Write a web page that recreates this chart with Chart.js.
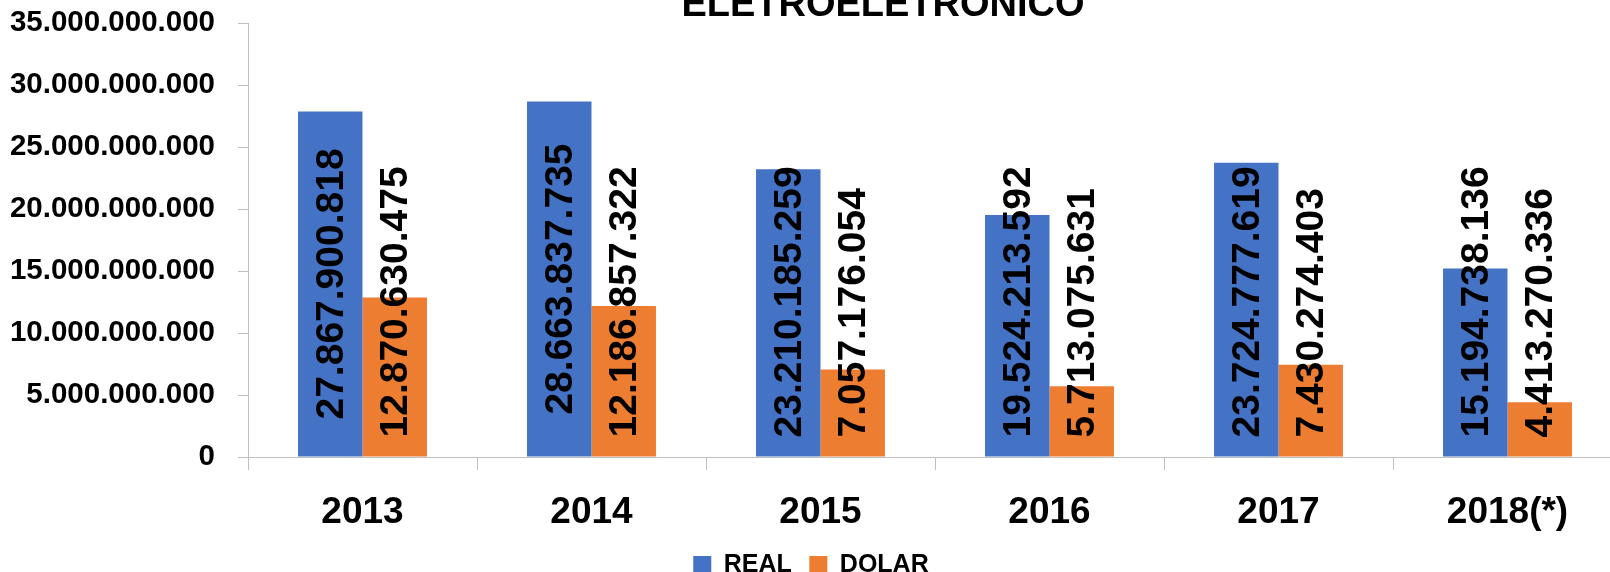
<!DOCTYPE html>
<html>
<head>
<meta charset="utf-8">
<script src="https://cdn.jsdelivr.net/npm/chart.js@4.4.1/dist/chart.umd.min.js"></script>
<style>
  html, body { margin: 0; padding: 0; background: #fff; overflow: hidden; width: 1610px; height: 572px; }
  #wrap { position: absolute; left: 0; top: -30px; width: 1640px; height: 630px; }
</style>
</head>
<body>
<div id="wrap"><canvas id="myChart" width="1640" height="630"></canvas></div>
<script>
const titleText = 'ELETROELETRÔNICO';
const years = ['2013', '2014', '2015', '2016', '2017', '2018(*)'];
const realValues = [27867900818, 28663837735, 23210185259, 19524213592, 23724777619, 15194738136];
const dolarValues = [12870630475, 12186857322, 7057176054, 5713075631, 7430274403, 4413270336];
const seriesNames = ['REAL', 'DOLAR'];

const sans = "'Liberation Sans', Arial, sans-serif";

function fmt(v) {
  return String(Math.round(v)).replace(/\B(?=(\d{3})+(?!\d))/g, '.');
}

// vertical value labels + title drawn on top
const labelPlugin = {
  id: 'barLabels',
  afterDatasetsDraw(chart) {
    const ctx = chart.ctx;
    ctx.save();
    ctx.fillStyle = '#000';
    ctx.font = 'bold 39px ' + sans;
    ctx.textAlign = 'center';
    ctx.textBaseline = 'middle';
    chart.data.datasets.forEach((ds, i) => {
      chart.getDatasetMeta(i).data.forEach((bar, j) => {
        const txt = fmt(ds.data[j]);
        const w = ctx.measureText(txt).width;
        const cy = Math.min((bar.y + bar.base) / 2, bar.base - 19 - w / 2);
        ctx.save();
        ctx.translate(bar.x + 2, cy);
        ctx.rotate(-Math.PI / 2);
        ctx.fillText(txt, 0, 0);
        ctx.restore();
      });
    });
    // title (partly cut at the top like the source)
    ctx.font = 'bold 38px ' + sans;
    ctx.textBaseline = 'alphabetic';
    ctx.fillText(titleText, 883, 46);
    ctx.restore();
  }
};

const ctx = document.getElementById('myChart').getContext('2d');
const chart = new Chart(ctx, {
  type: 'bar',
  data: {
    labels: years,
    datasets: [{
      label: seriesNames[0],
      backgroundColor: '#4472C4',
      data: realValues
    }, {
      label: seriesNames[1],
      backgroundColor: '#ED7D31',
      data: dolarValues
    }]
  },
  options: {
    responsive: false,
    animation: false,
    devicePixelRatio: 1,
    categoryPercentage: 0.563,
    barPercentage: 1,
    layout: { padding: { top: 53, right: 18, bottom: 12.5, left: 0 } },
    scales: {
      x: {
        afterFit(scale) { scale.height = 78; },
        grid: { drawOnChartArea: false, color: '#BFBFBF', tickLength: 13, offset: true },
        border: { color: '#BFBFBF' },
        ticks: {
          color: '#000',
          padding: 24,
          maxRotation: 0,
          font: { family: sans, weight: 'bold', size: 37, lineHeight: 1.0 }
        }
      },
      y: {
        min: 0,
        max: 35000000000,
        afterFit(scale) { scale.width = 248; },
        grid: { drawOnChartArea: false, color: '#BFBFBF', tickLength: 10 },
        border: { color: '#BFBFBF' },
        ticks: {
          stepSize: 5000000000,
          color: '#000',
          padding: 23,
          font: { family: sans, weight: 'bold', size: 29.5 },
          callback: (v) => fmt(v)
        }
      }
    },
    plugins: {
      title: { display: false },
      tooltip: { enabled: false },
      legend: {
        position: 'bottom',
        labels: {
          color: '#000',
          boxWidth: 18,
          boxHeight: 18,
          padding: 17.5,
          font: { family: sans, weight: 'bold', size: 25 }
        }
      }
    }
  },
  plugins: [labelPlugin]
});
</script>
</body>
</html>
